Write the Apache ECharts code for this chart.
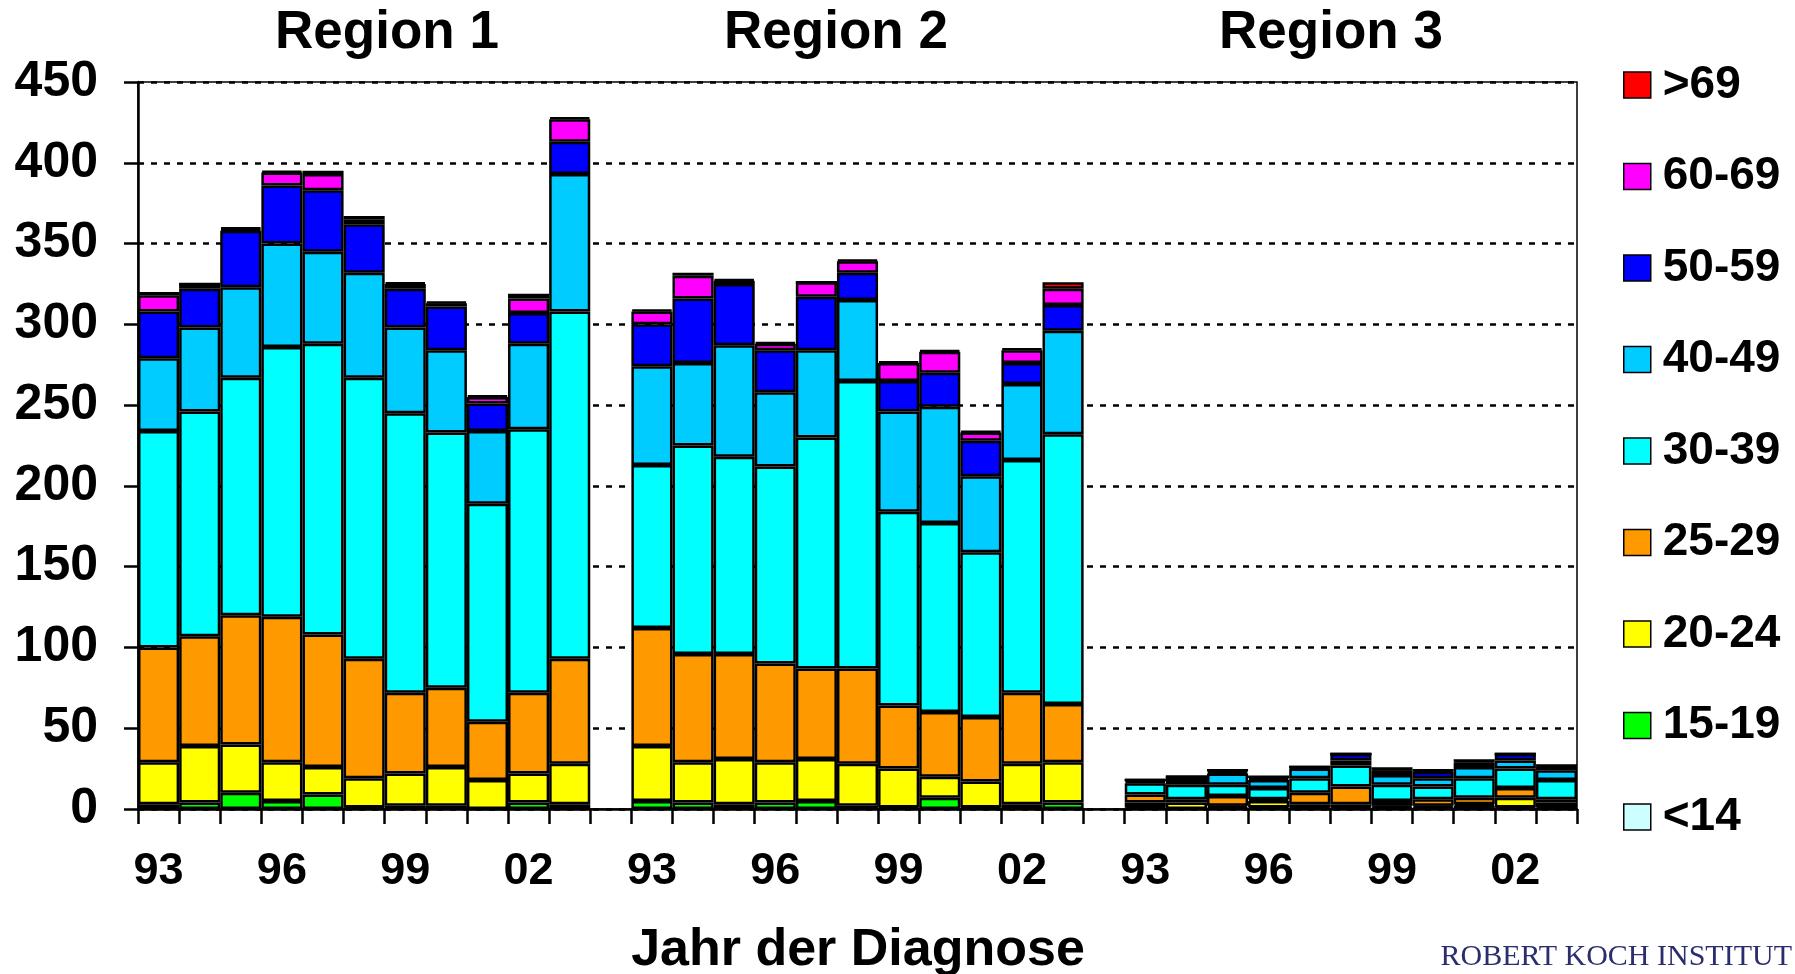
<!DOCTYPE html>
<html>
<head>
<meta charset="utf-8">
<title>Jahr der Diagnose</title>
<script src="https://cdn.jsdelivr.net/npm/echarts@6.0.0/dist/echarts.min.js"></script>
<style>
  html, body { margin: 0; padding: 0; background: #fff; }
  #chart { width: 1795px; height: 974px; }
</style>
</head>
<body>
<div id="chart"></div>
<script>
// Jahre je Region (93 - 03)
const years = ["93", "94", "95", "96", "97", "98", "99", "00", "01", "02", "03"];
const regions = ["Region 1", "Region 2", "Region 3"];
const yTicks = [0, 50, 100, 150, 200, 250, 300, 350, 400, 450];

// Altersgruppen: je 33 Werte = Region 1 (93-03), Region 2 (93-03), Region 3 (93-03)
const ageLt14 = [
  0, 0, 0, 0, 0, 0, 0, 0, 0, 0, 0,
  0, 0, 0, 0, 0, 0, 0, 0, 0, 0, 0,
  0, 0, 0, 0, 0, 0, 0, 0, 0, 0, 0,
];
const age1519 = [
  3, 4, 10, 5, 9, 1, 2, 2, 0, 4, 3,
  5, 4, 3, 4, 5, 2, 1, 7, 1, 3, 4,
  1, 0, 1, 1, 1, 1, 1, 1, 2, 1, 1,
];
const age2024 = [
  26, 35, 30, 24, 17, 18, 20, 24, 18, 18, 25,
  34, 25, 28, 25, 26, 26, 24, 13, 16, 25, 25,
  3, 4, 1, 4, 2, 2, 1, 1, 1, 6, 3,
];
const age2529 = [
  71, 68, 80, 90, 82, 74, 50, 49, 36, 50, 65,
  73, 67, 65, 61, 56, 59, 39, 40, 40, 44, 36,
  5, 2, 6, 1, 7, 11, 3, 4, 4, 6, 2,
];
const age3039 = [
  134, 139, 147, 167, 180, 174, 173, 158, 135, 163, 215,
  101, 129, 122, 122, 143, 178, 120, 117, 102, 144, 167,
  7, 9, 7, 7, 9, 13, 10, 8, 12, 12, 12,
];
const age4049 = [
  45, 52, 56, 64, 57, 65, 53, 51, 45, 53, 85,
  61, 51, 69, 46, 54, 50, 62, 72, 47, 47, 64,
  1, 3, 7, 5, 6, 3, 6, 5, 7, 5, 6,
];
const age5059 = [
  29, 24, 35, 36, 38, 30, 24, 27, 17, 19, 20,
  26, 40, 38, 26, 33, 17, 19, 21, 22, 13, 16,
  1, 2, 1, 1, 1, 4, 3, 4, 3, 4, 2,
];
const age6069 = [
  10, 3, 1, 8, 10, 3, 3, 2, 4, 9, 14,
  8, 14, 2, 4, 9, 7, 11, 13, 5, 8, 10,
  0, 0, 1, 1, 0, 0, 1, 1, 1, 0, 1,
];
const ageGt69 = [
  2, 0, 1, 1, 2, 2, 1, 1, 1, 3, 1,
  1, 2, 1, 1, 0, 1, 1, 1, 1, 1, 4,
  0, 0, 0, 0, 0, 0, 0, 0, 0, 0, 0,
];

// von unten nach oben gestapelt
const groups = [
  { name: "<14", color: "#ccffff", data: ageLt14 },
  { name: "15-19", color: "#00ff00", data: age1519 },
  { name: "20-24", color: "#ffff00", data: age2024 },
  { name: "25-29", color: "#ff9900", data: age2529 },
  { name: "30-39", color: "#00ffff", data: age3039 },
  { name: "40-49", color: "#00ccff", data: age4049 },
  { name: "50-59", color: "#0000ff", data: age5059 },
  { name: "60-69", color: "#ff00ff", data: age6069 },
  { name: ">69", color: "#ff0000", data: ageGt69 },
];

const FONT = '"Liberation Sans", Arial, sans-serif';

// Kategorien: 11 Jahre je Region, dazwischen je ein leerer Platz
const slotLabels = [];
const slotIndex = []; // Index in die 33er-Arrays, -1 = Lücke
regions.forEach((r, ri) => {
  if (ri > 0) {
    slotLabels.push("");
    slotIndex.push(-1);
  }
  years.forEach((y, yi) => {
    slotLabels.push(y);
    slotIndex.push(ri * years.length + yi);
  });
});

const series = groups.map((g) => ({
  name: g.name,
  type: "bar",
  stack: "total",
  barCategoryGap: "0%",
  itemStyle: { color: g.color, borderColor: "#000", borderWidth: 2.5 },
  emphasis: { disabled: true },
  data: slotIndex.map((i) => (i < 0 ? "-" : g.data[i])),
}));

const chart = echarts.init(document.getElementById("chart"), null, { renderer: "canvas" });

const option = {
  backgroundColor: "#fff",
  animation: false,
  grid: {
    left: 138,
    right: 218,
    top: 82,
    bottom: 165,
    show: true,
    borderColor: "#000",
    borderWidth: 1.5,
    outerBoundsMode: "none",
  },
  legend: {
    orient: "vertical",
    left: 1618,
    top: 55,
    icon: "rect",
    itemWidth: 27,
    itemHeight: 26,
    itemGap: 41.5,
    selectedMode: false,
    data: groups.map((g) => g.name).reverse(),
    itemStyle: { borderColor: "#000", borderWidth: 1.5 },
    textStyle: {
      fontFamily: FONT,
      fontWeight: "bold",
      fontSize: 46,
      lineHeight: 50,
      color: "#000",
      padding: [0, 0, 0, 7],
    },
  },
  xAxis: {
    type: "category",
    data: slotLabels.map((l, i) => "s" + i),
    boundaryGap: true,
    axisLine: { lineStyle: { color: "#000", width: 2.5 } },
    axisTick: { show: true, interval: 0, length: 15, lineStyle: { color: "#000", width: 2.5 } },
    axisLabel: {
      interval: 2,
      margin: 40,
      fontFamily: FONT,
      fontWeight: "bold",
      fontSize: 45,
      color: "#000",
      formatter: (v, idx) => slotLabels[idx],
    },
    splitLine: { show: false },
  },
  yAxis: {
    type: "value",
    min: yTicks[0],
    max: yTicks[yTicks.length - 1],
    interval: 50,
    axisLine: { show: true, lineStyle: { color: "#000", width: 2.5 } },
    axisTick: { show: true, length: 14, lineStyle: { color: "#000", width: 2.5 } },
    axisLabel: {
      margin: 40,
      fontFamily: FONT,
      fontWeight: "bold",
      fontSize: 50,
      color: "#000",
    },
    splitLine: { lineStyle: { color: "#000", width: 2.5, type: [6, 7] } },
  },
  graphic: [
    ...regions.map((r, i) => ({
      type: "text",
      x: [387, 836, 1331][i],
      y: 33,
      style: {
        text: r,
        font: "bold 53px " + FONT,
        fill: "#000",
        textAlign: "center",
        textVerticalAlign: "middle",
      },
    })),
    {
      type: "text",
      x: 858,
      y: 951,
      style: {
        text: "Jahr der Diagnose",
        font: "bold 52px " + FONT,
        fill: "#000",
        textAlign: "center",
        textVerticalAlign: "middle",
      },
    },
    {
      type: "text",
      x: 1792,
      y: 957,
      style: {
        text: "ROBERT KOCH INSTITUT",
        font: '30px "Liberation Serif", "DejaVu Serif", serif',
        fill: "#2b2e6e",
        textAlign: "right",
        textVerticalAlign: "middle",
      },
    },
  ],
  series: series,
};

chart.setOption(option);
</script>
</body>
</html>
